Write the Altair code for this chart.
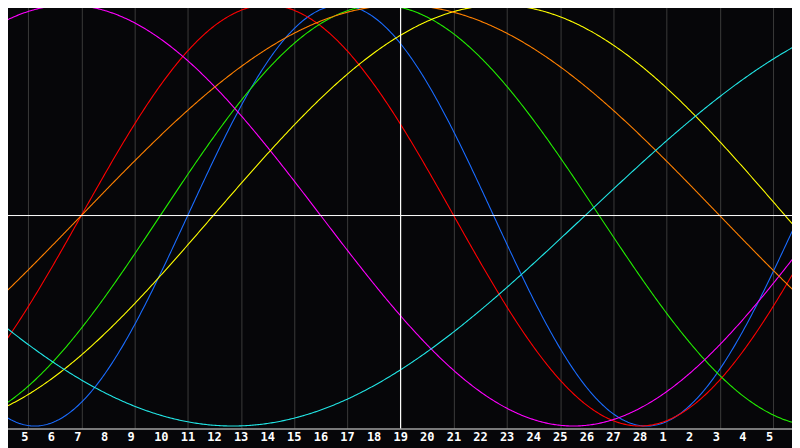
import altair as alt
import pandas as pd

# Biorhythm cycles: period (days) and the chart-day index
# where each curve crosses zero going upward.
names = ["Physical", "Emotional", "Intellectual", "Intuitive", "Aesthetic", "Awareness", "Spiritual"]
periods = [23, 28, 33, 38, 43, 48, 53]
zero_up = [7.0, 3.0, 5.97, -7.0, 7.96, 3.0, 21.94]
colors = ["#1a6cff", "#ff0000", "#22ee00", "#ff00ff", "#ffff00", "#ff8000", "#22e6e6"]

# day-of-month label for each chart index 0..30
day_labels = [4, 5, 6, 7, 8, 9, 10, 11, 12, 13, 14, 15, 16, 17, 18, 19, 20, 21, 22,
              23, 24, 25, 26, 27, 28, 1, 2, 3, 4, 5, 6]
today_index = 15
n_days = 30
steps_per_day = 20

rows = []
for nm, p, z in zip(names, periods, zero_up):
    for k in range(n_days * steps_per_day + 1):
        rows.append({"name": nm, "period": p, "zero_up": z, "t": k / steps_per_day})
samples = pd.DataFrame(rows)

labels_df = pd.DataFrame({
    "idx": list(range(1, n_days)),
    "label": [str(d) for d in day_labels[1:n_days]],
})

xscale = alt.Scale(domain=[-0.01875, n_days - 0.01875], nice=False, zero=False)
yscale = alt.Scale(domain=[-1.0118, 1.0166], nice=False, zero=False)

lines = (
    alt.Chart(samples)
    .transform_calculate(v="sin(2 * PI * (datum.t - datum.zero_up) / datum.period)")
    .mark_line(strokeWidth=1.1, clip=True)
    .encode(
        x=alt.X(
            "t:Q",
            scale=xscale,
            axis=alt.Axis(
                values=list(range(1, n_days)),
                grid=True,
                gridColor="#3a3a3a",
                gridWidth=1,
                gridOpacity=1,
                domain=True,
                domainColor="#a0a0a0",
                domainWidth=1.5,
                ticks=False,
                labels=False,
                title=None,
            ),
        ),
        y=alt.Y("v:Q", scale=yscale, axis=None),
        color=alt.Color("name:N", scale=alt.Scale(domain=names, range=colors), legend=None),
        detail="name:N",
    )
)

day_text = (
    alt.Chart(labels_df)
    .mark_text(
        color="#ffffff",
        font="DejaVu Sans Mono",
        fontWeight="bold",
        fontSize=12,
        align="left",
        baseline="middle",
        dx=-7,
    )
    .encode(
        x=alt.X("idx:Q", scale=xscale),
        y=alt.value(437),
        text="label:N",
    )
)

zero_rule = (
    alt.Chart(pd.DataFrame({"y": [0.0]}))
    .mark_rule(color="#ffffff", strokeWidth=1)
    .encode(y=alt.Y("y:Q", scale=yscale))
)

today_rule = (
    alt.Chart(pd.DataFrame({"x": [today_index]}))
    .mark_rule(color="#ffffff", strokeWidth=1)
    .encode(x=alt.X("x:Q", scale=xscale))
)

chart = (
    alt.layer(lines, zero_rule, today_rule, day_text)
    .properties(
        width=800,
        height=428,
        background="#060609",
        padding={"left": -8, "top": -8, "right": -8, "bottom": 6},
    )
    .configure_view(strokeWidth=0, fill="#060609")
)

chart.save("out.html", embed_options={"renderer": "svg", "actions": False})
